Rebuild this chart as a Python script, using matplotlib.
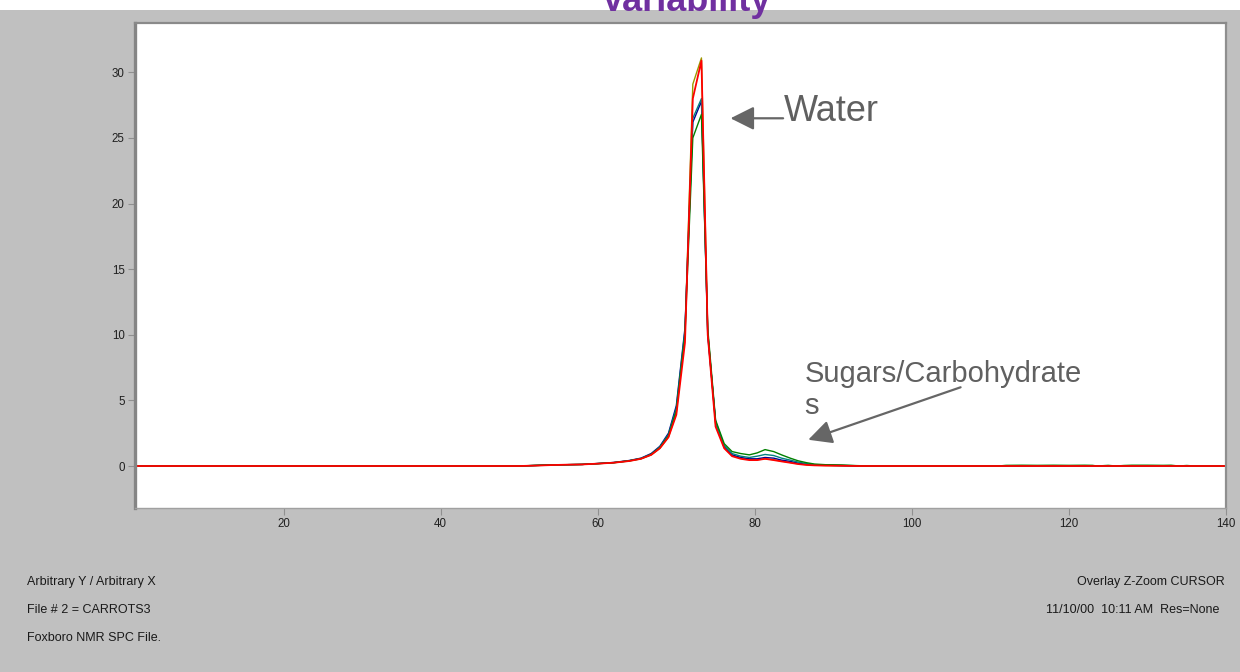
import matplotlib
matplotlib.use("Agg")
import matplotlib.pyplot as plt
from matplotlib.patches import Rectangle
import numpy as np

plt.rcParams['font.family'] = ['Liberation Sans', 'DejaVu Sans']

# sample positions around the water peak
x_peak = [50, 52, 54, 56, 58, 60, 62, 64, 65.5, 66.8, 67.9, 69.0, 70.0, 71.1,
          72.1, 73.2, 74.0, 75.0, 76.1, 77.1, 78.2, 79.3, 80.3, 81.3, 82.4,
          83.4, 84.5, 85.5, 86.6, 87.6, 89, 91, 93, 95]

olive = [0, 0.03, 0.07, 0.1, 0.12, 0.18, 0.25, 0.38, 0.55, 0.85, 1.35, 2.2,
         4.1, 10.0, 29.1, 31.1, 10.2, 3.2, 1.4, 0.8, 0.6, 0.5, 0.48, 0.55,
         0.48, 0.38, 0.27, 0.17, 0.1, 0.06, 0.04, 0.02, 0, 0]
blue = [0, 0.04, 0.08, 0.1, 0.12, 0.19, 0.27, 0.42, 0.6, 0.95, 1.5, 2.5,
        4.6, 10.5, 26.2, 27.8, 10.0, 3.4, 1.5, 0.85, 0.65, 0.55, 0.55, 0.65,
        0.6, 0.45, 0.35, 0.22, 0.13, 0.08, 0.06, 0.03, 0.01, 0]
teal = [0, 0.04, 0.08, 0.1, 0.12, 0.19, 0.26, 0.4, 0.58, 0.9, 1.45, 2.4,
        4.4, 10.3, 26.5, 28.0, 10.2, 3.3, 1.55, 0.95, 0.75, 0.65, 0.75, 0.88,
        0.8, 0.6, 0.45, 0.3, 0.18, 0.1, 0.08, 0.05, 0.02, 0]
green = [0, 0.05, 0.08, 0.1, 0.12, 0.18, 0.25, 0.4, 0.56, 0.88, 1.4, 2.3,
         4.2, 10.0, 25.0, 26.8, 10.5, 3.5, 1.7, 1.1, 0.95, 0.85, 1.0, 1.25,
         1.1, 0.85, 0.6, 0.4, 0.25, 0.15, 0.1, 0.08, 0.03, 0]
red = [0, 0.03, 0.07, 0.1, 0.12, 0.18, 0.25, 0.38, 0.55, 0.85, 1.35, 2.2,
       3.9, 9.4, 28.0, 30.9, 10.0, 3.0, 1.35, 0.75, 0.55, 0.45, 0.45, 0.55,
       0.45, 0.35, 0.25, 0.15, 0.08, 0.05, 0.03, 0.02, 0, 0]

# small green wiggle far right
x_tail = [111, 112, 114, 116, 118, 120, 122, 123, 123.6, 125, 126, 127, 128,
          130, 132, 133, 134, 135, 136]
green_tail = [0, 0.05, 0.06, 0.05, 0.06, 0.05, 0.06, 0.05, 0.0, 0.05, 0.0,
              0.04, 0.06, 0.06, 0.05, 0.06, 0.0, 0.04, 0]

x_start, x_end = 1, 140

series = [
    (olive, '#9a9a00', 1.0),
    (blue, '#000090', 1.0),
    (teal, '#008080', 1.0),
    (green, '#008000', 1.0),
    (red, '#ff0000', 1.3),
]

fig = plt.figure(figsize=(12.4, 6.72), dpi=100, facecolor='#c0c0c0')
fig.patches.append(Rectangle((0, 1 - 10 / 672), 1, 10 / 672, transform=fig.transFigure,
                             facecolor='white', edgecolor='none', zorder=0))
fig.text(686 / 1240, 1 - 11 / 672, 'Variability', ha='center', va='baseline',
         color='#7030a0', fontsize=26, fontweight='bold')

ax = fig.add_axes([134.5 / 1240, 1 - 508 / 672, (1226 - 134.5) / 1240, (508 - 22.5) / 672])
ax.set_facecolor('white')

for vals, col, lw in series:
    xs = [x_start] + x_peak + [x_end]
    ys = [0] + vals + [0]
    if vals is green:
        xs = [x_start] + x_peak + x_tail + [x_end]
        ys = [0] + vals + green_tail + [0]
    ax.plot(xs, ys, color=col, lw=lw)

ax.set_xlim(1, 140)
ax.set_ylim(-3.2, 33.8)
ax.set_xticks([20, 40, 60, 80, 100, 120, 140])
ax.set_yticks([0, 5, 10, 15, 20, 25, 30])
ax.tick_params(length=5, width=0.8, color='#909090', labelsize=8.3,
               labelcolor='#202020', pad=2)

ax.spines['left'].set_color('#858585')
ax.spines['left'].set_linewidth(2.4)
ax.spines['top'].set_color('#8a8a8a')
ax.spines['top'].set_linewidth(1.6)
ax.spines['right'].set_color('#8f8f8f')
ax.spines['right'].set_linewidth(1.6)
ax.spines['bottom'].set_color('#a0a0a0')
ax.spines['bottom'].set_linewidth(1.0)

arrow_props = dict(arrowstyle='-|>,head_length=0.9,head_width=0.45', color='#666666',
                   lw=1.6, mutation_scale=16, shrinkA=0, shrinkB=0)
ax.annotate('', xy=(76.9, 26.5), xytext=(83.6, 26.5), arrowprops=arrow_props)
ax.text(83.7, 27.0, 'Water', fontsize=26, color='#606060', va='center', ha='left')

ax.annotate('', xy=(86.8, 2.0), xytext=(106.2, 6.0), arrowprops=arrow_props)
ax.text(86.3, 5.8, 'Sugars/Carbohydrate\ns', fontsize=21, color='#606060',
        va='center', ha='left', linespacing=1.2)

foot = dict(fontsize=9, color='#1a1a1a', va='center')
fig.text(27 / 1240, 1 - 582 / 672, 'Arbitrary Y / Arbitrary X', ha='left', **foot)
fig.text(27 / 1240, 1 - 610 / 672, 'File # 2 = CARROTS3', ha='left', **foot)
fig.text(27 / 1240, 1 - 638 / 672, 'Foxboro NMR SPC File.', ha='left', **foot)
fig.text(1225 / 1240, 1 - 582 / 672, 'Overlay Z-Zoom CURSOR', ha='right', **foot)
fig.text(1219 / 1240, 1 - 610 / 672, '11/10/00  10:11 AM  Res=None', ha='right', **foot)

fig.savefig('out.png', dpi=100, facecolor=fig.get_facecolor())
